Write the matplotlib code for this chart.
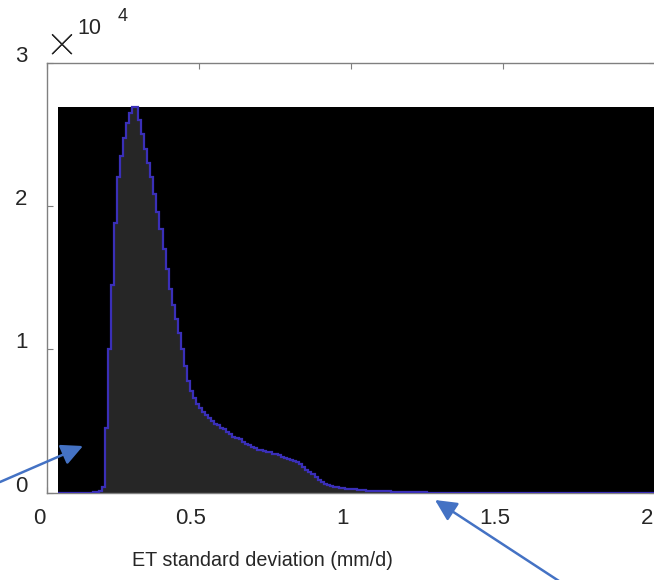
import numpy as np
import matplotlib
matplotlib.use("Agg")
import matplotlib.pyplot as plt
import matplotlib.patheffects as pe
from matplotlib.patches import Rectangle
from matplotlib.transforms import ScaledTranslation

plt.rcParams['font.family'] = ['Liberation Sans', 'DejaVu Sans']

# histogram counts (x 10^4), bins of width 0.01 starting at 0.15
bin_start = 0.15
bin_width = 0.01
counts = [0.004, 0.006, 0.01, 0.04, 0.45, 1.0, 1.45, 1.88, 2.2, 2.35,
          2.47, 2.58, 2.65, 2.69, 2.69, 2.6, 2.5, 2.4, 2.3, 2.2,
          2.08, 1.96, 1.84, 1.7, 1.56, 1.42, 1.31, 1.21, 1.11, 1.0,
          0.88, 0.78, 0.71, 0.66, 0.62, 0.59, 0.56, 0.54, 0.52, 0.5,
          0.48, 0.47, 0.45, 0.44, 0.42, 0.41, 0.39, 0.38, 0.37, 0.35,
          0.34, 0.33, 0.32, 0.31, 0.3, 0.3, 0.29, 0.28, 0.28, 0.27,
          0.27, 0.26, 0.25, 0.24, 0.235, 0.23, 0.22, 0.21, 0.2, 0.18,
          0.16, 0.145, 0.13, 0.11, 0.09, 0.075, 0.06, 0.05, 0.045, 0.04,
          0.036, 0.032, 0.03, 0.027, 0.025, 0.023, 0.021, 0.019, 0.017, 0.015,
          0.013, 0.012, 0.011, 0.01, 0.009, 0.008, 0.007, 0.007, 0.006, 0.006,
          0.005, 0.005, 0.004, 0.004, 0.003, 0.003, 0.003, 0.002, 0.002, 0.002]
data_min = 0.036
x_max = 2.0

xticks = [0, 0.5, 1, 1.5, 2]
xticklabels = ['0', '0.5', '1', '1.5', '2']
yticks = [0, 1e4, 2e4, 3e4]
yticklabels = ['0', '1', '2', '3']

counts = np.array(counts) * 1e4
edges = bin_start + bin_width * np.arange(len(counts) + 1)
# pad with empty bins out to the data range
edges = np.concatenate([[data_min], edges, [x_max]])
counts = np.concatenate([[0], counts, [0]])

W, H = 654, 580
fig = plt.figure(figsize=(W / 100, H / 100), dpi=100)
ax = fig.add_axes([47 / W, (H - 492.5) / H, (655 - 47) / W, (492.5 - 62.5) / H])

ax.add_patch(Rectangle((data_min, 0), x_max - data_min, counts.max(),
                       facecolor='black', edgecolor='none', zorder=1))
ax.stairs(counts, edges, fill=True, color='#262626', zorder=2)
ax.stairs(counts, edges, color='#3a2fb8', lw=1.6, zorder=3)

ax.set_xlim(0, 2)
ax.set_ylim(0, 3e4)
ax.set_xticks(xticks)
ax.set_xticklabels(xticklabels)
ax.set_yticks(yticks)
ax.set_yticklabels(yticklabels)
ax.set_axisbelow(True)
ax.tick_params(direction='in', length=4.5, width=0.8, color='#7f7f7f',
               labelsize=16, labelcolor='#262626', top=True, right=True)
ax.tick_params(axis='y', pad=14)
ax.tick_params(axis='x', pad=11)
for lab in ax.get_yticklabels():
    lab.set_transform(lab.get_transform() + ScaledTranslation(0, 9 / 100, fig.dpi_scale_trans))
for lab in ax.get_xticklabels():
    lab.set_transform(lab.get_transform() + ScaledTranslation(-8 / 100, 0, fig.dpi_scale_trans))
for s in ax.spines.values():
    s.set_color('#808080')
    s.set_linewidth(1.0)

# exponent label
fig.text(62 / W, 1 - 47 / H, '\u00d7', fontsize=35, color='#262626', ha='center', va='center',
         family=['Lato', 'Liberation Sans'], fontweight='light',
         path_effects=[pe.withStroke(linewidth=0.7, foreground='#262626')])
fig.text(77 / W, 1 - 28.5 / H, '10', fontsize=15.5, color='#262626', ha='left', va='center')
fig.text(118 / W, 1 - 16.5 / H, '4', fontsize=13, color='#262626', ha='left', va='center')

fig.text(262 / W, 1 - 561 / H, 'ET standard deviation (mm/d)', fontsize=14.2,
         color='#262626', ha='center', va='center')

arrow_kw = dict(arrowstyle='-|>,head_length=0.65,head_width=0.32', color='#4472c4',
                lw=1.8, mutation_scale=20, shrinkA=0, shrinkB=0)
ax.annotate('', xy=(83, H - 446), xytext=(0, H - 482), xycoords='figure pixels',
            textcoords='figure pixels', arrowprops=arrow_kw, annotation_clip=False)
ax.annotate('', xy=(435, H - 500), xytext=(562, H - 583), xycoords='figure pixels',
            textcoords='figure pixels', arrowprops=arrow_kw, annotation_clip=False)

fig.savefig('out.png', dpi=100)
